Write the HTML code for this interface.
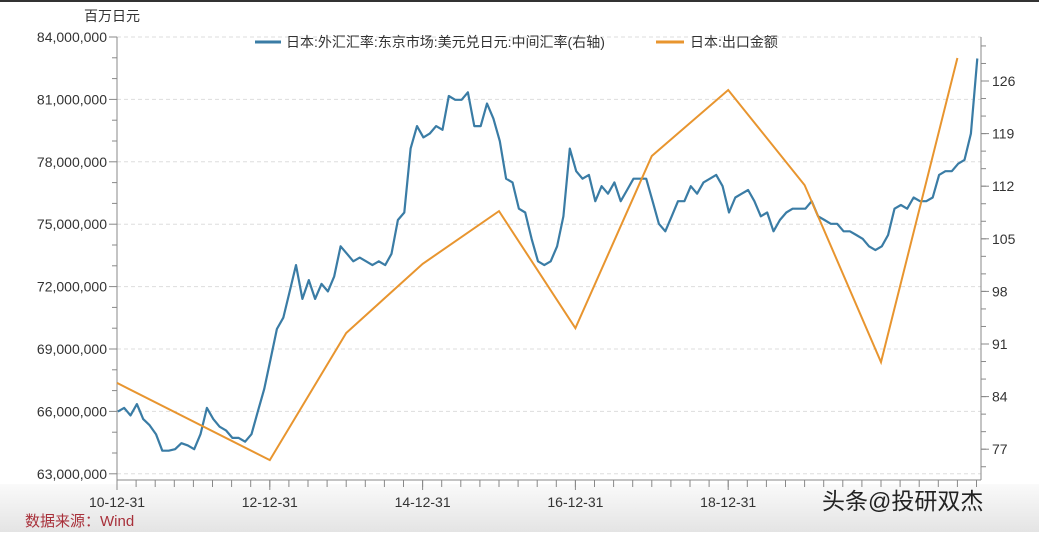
<!DOCTYPE html>
<html><head><meta charset="utf-8">
<style>
html,body{margin:0;padding:0;background:#fff;}
body{width:1039px;height:532px;overflow:hidden;position:relative;font-family:"Liberation Sans","Noto Sans CJK SC",sans-serif;}
svg text{font-family:"Liberation Sans","Noto Sans CJK SC",sans-serif;}
</style></head>
<body>
<svg id="chart" width="1039" height="532" xmlns="http://www.w3.org/2000/svg">
<defs><linearGradient id="bg" x1="0" y1="0" x2="0" y2="1"><stop offset="0" stop-color="#fafafa"/><stop offset="1" stop-color="#e4e4e4"/></linearGradient></defs>
<rect x="0" y="0" width="1039" height="532" fill="#fff"/>
<rect x="0" y="484" width="1039" height="48" fill="url(#bg)"/>
<rect x="0" y="0" width="1039" height="2" fill="#333"/>
<g id="grid"></g><g id="axes"></g><g id="series"></g>
<text x="112" y="21" font-size="14" fill="#333" text-anchor="middle">百万日元</text>
<g>
<line x1="255" y1="42" x2="281" y2="42" stroke="#3a7ca5" stroke-width="3"/>
<text x="286" y="47" font-size="14" fill="#333">日本:外汇汇率:东京市场:美元兑日元:中间汇率(右轴)</text>
<line x1="656" y1="42" x2="684" y2="42" stroke="#e8952f" stroke-width="3"/>
<text x="690" y="47" font-size="14" fill="#333">日本:出口金额</text>
</g>
<text x="25" y="526" font-size="15" fill="#a8303a">数据来源：Wind</text>
<text x="822" y="509" font-size="23" fill="#222">头条@投研双杰</text>
</svg>
<script>
const leftTicks=[63000000,66000000,69000000,72000000,75000000,78000000,81000000,84000000];
const rightTicks=[77,84,91,98,105,112,119,126];
const xTickLabels=["10-12-31","12-12-31","14-12-31","16-12-31","18-12-31"];
const xTickYears=[2010,2012,2014,2016,2018];
const exportYears=[2010,2012,2013,2014,2015,2016,2017,2018,2019,2020,2021];
const exportValues=[67370000,63660000,69770000,73090000,75630000,70000000,78280000,81450000,76880000,68370000,82990000];
const fxStart=2011.0;
const fxValues=[82,82.5,81.5,83,81,80.2,79,76.8,76.8,77,77.8,77.5,
77,79,82.5,81,80,79.5,78.5,78.5,78,79,82,85,
89,93,94.5,98,101.5,97,99.5,97,99,98,100,104,
103,102,102.5,102,101.5,102,101.5,103,107.5,108.5,117,120,
118.5,119,120,119.5,124,123.5,123.5,124.5,120,120,123,121,
118,113,112.5,109,108.5,105,102,101.5,102,104,108,117,
114,113,113.5,110,112,111,112.5,110,111.5,113,113,113,
110,107,106,108,110,110,112,111,112.5,113,113.5,112,
108.5,110.5,111,111.5,110,108,108.5,106,107.5,108.5,109,109,
109,110,108,107.5,107,107,106,106,105.5,105,104,103.5,
104,105.5,109,109.5,109,110.5,110,110,110.5,113.5,114,114,
115,115.5,119,129];
const X0=117,X1=981,YT=37,YB=480;
const NS="http://www.w3.org/2000/svg";
function xs(t){return 117+(t-2010.99)*76.4;}
function yl(v){return 37+(84000000-v)/3000000*62.4;}
function yr(v){return 81+(126-v)/7*52.6;}
function mk(tag,attrs,parent){const e=document.createElementNS(NS,tag);for(const k in attrs)e.setAttribute(k,attrs[k]);parent.appendChild(e);return e;}
const grid=document.getElementById('grid'),axes=document.getElementById('axes'),ser=document.getElementById('series');
leftTicks.forEach((v,i)=>{
 const y=yl(v);
 const g=mk('line',{x1:X0,y1:y,x2:X1,y2:y,stroke:'#ddd','stroke-dasharray':'4,3'},grid);
 
 
 mk('line',{x1:X0-8,y1:y,x2:X0,y2:y,stroke:'#888'},axes);
 const t=mk('text',{x:X0-10,y:y+5,'font-size':14,fill:'#333','text-anchor':'end'},axes);
 t.textContent=v.toLocaleString('en-US');
 
 
 if(i<leftTicks.length-1){for(let k=1;k<3;k++){const yy=yl(v+k*1000000);mk('line',{x1:X0-5,y1:yy,x2:X0,y2:yy,stroke:'#888'},axes);}}
});
mk('line',{x1:X0,y1:YT,x2:X0,y2:YB,stroke:'#888'},axes);
mk('line',{x1:X1,y1:YT,x2:X1,y2:YB,stroke:'#888'},axes);
mk('line',{x1:X0,y1:YB,x2:X1,y2:YB,stroke:'#888'},axes);
for(let v=70;v<=133;v+=7/3){const y=yr(v);if(y<YT||y>YB)continue;mk('line',{x1:X1,y1:y,x2:X1+5,y2:y,stroke:'#888'},axes);}
rightTicks.forEach(v=>{const y=yr(v);mk('line',{x1:X1,y1:y,x2:X1+8,y2:y,stroke:'#888'},axes);
 const t=mk('text',{x:X1+11,y:y+5,'font-size':14,fill:'#333'},axes);t.textContent=v;
 
 });
for(let t=2010.99;xs(t)<=X1+1;t+=0.25){const x=xs(t);mk('line',{x1:x,y1:YB,x2:x,y2:YB+7,stroke:'#888'},axes);}
xTickYears.forEach((yv,i)=>{const x=xs(yv+0.99);mk('line',{x1:x,y1:YB,x2:x,y2:YB+10,stroke:'#888'},axes);
 const t=mk('text',{x:x,y:YB+27,'font-size':14,fill:'#333','text-anchor':'middle'},axes);t.textContent=xTickLabels[i];
 
 });
let d='';fxValues.forEach((v,i)=>{d+=(i?'L':'M')+xs(fxStart+i/12).toFixed(1)+','+yr(v).toFixed(1);});
const fx=mk('path',{d:d,fill:'none',stroke:'#3a7ca5','stroke-width':2.2,'stroke-linejoin':'round'},ser);


let d2='';exportYears.forEach((yv,i)=>{d2+=(i?'L':'M')+xs(yv+0.99).toFixed(1)+','+yl(exportValues[i]).toFixed(1);});
const ex=mk('path',{d:d2,fill:'none',stroke:'#e8952f','stroke-width':2},ser);


</script>
</body></html>
